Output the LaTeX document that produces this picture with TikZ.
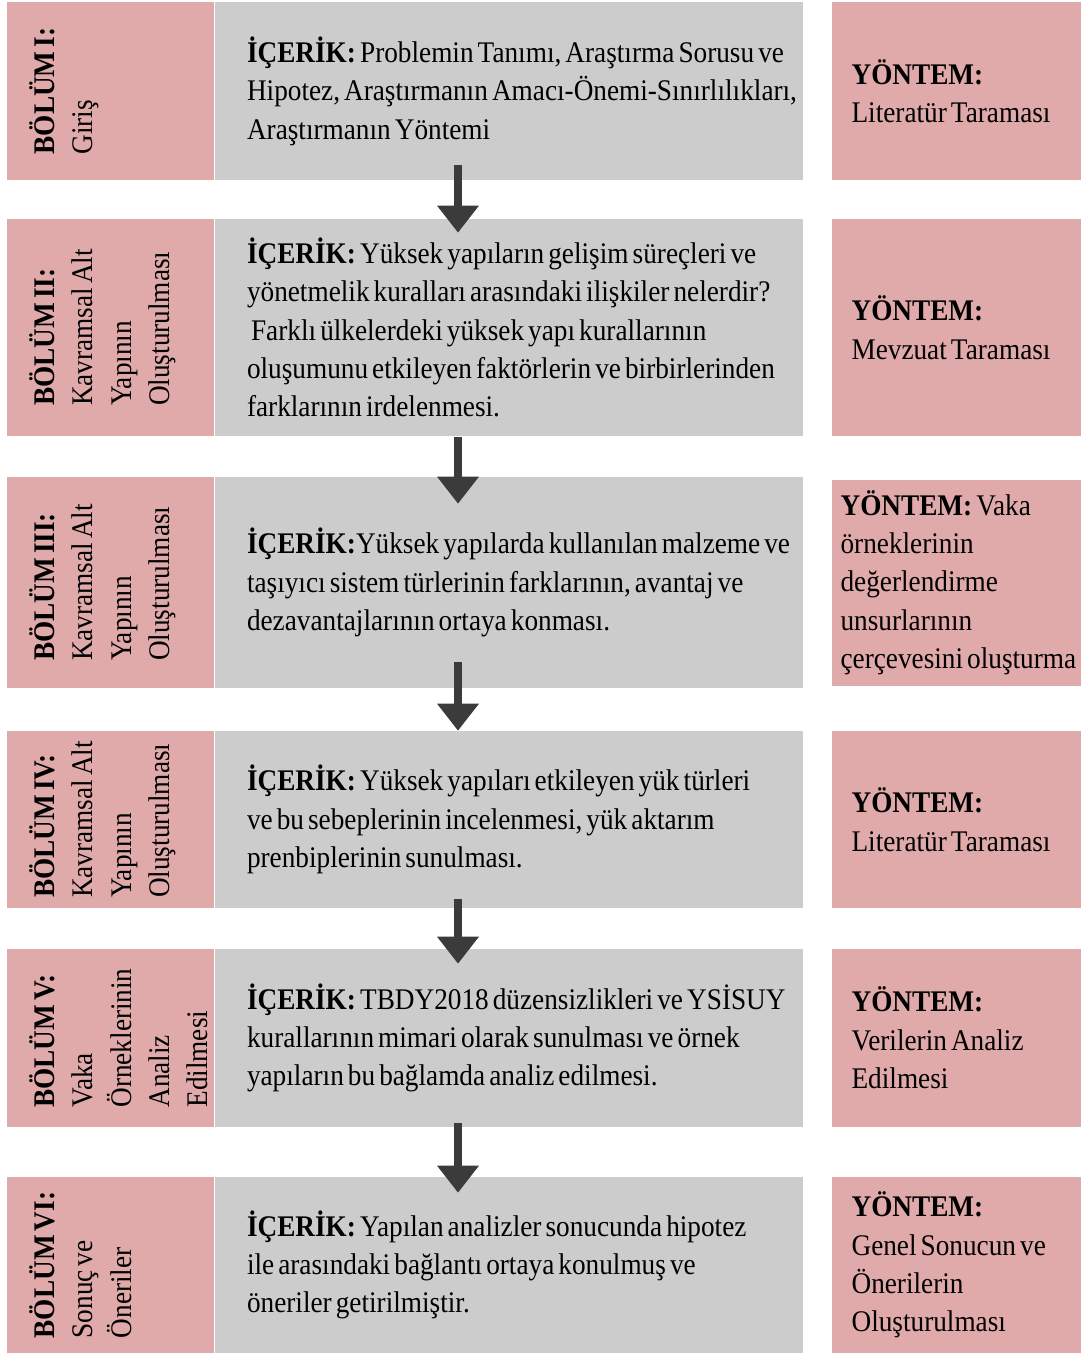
\documentclass[tikz,border=0pt]{standalone}
\usepackage{fontspec}
\setmainfont[FakeStretch=0.91, WordSpace=0.6]{Liberation Serif}
\usepackage{tikz}
\usetikzlibrary{shapes,arrows.meta,positioning}
\definecolor{rosebox}{HTML}{E0AAAB}
\definecolor{greybox}{HTML}{CCCCCC}
\definecolor{arrowgrey}{HTML}{3B3B3B}
\tikzstyle{chapter} = [rectangle, fill=rosebox, minimum width=5.175cm, inner sep=0pt]
\tikzstyle{chaptertext} = [rotate=90, anchor=north, align=left, inner sep=0pt]
\tikzstyle{content} = [rectangle, fill=greybox, text width=14.7cm, inner xsep=0pt,
    align=flush left, execute at begin node={\leftskip=0.8cm}]
\tikzstyle{method} = [rectangle, fill=rosebox, text width=6.225cm, inner xsep=0pt,
    align=flush left, execute at begin node={\leftskip=0.5cm}]
\tikzstyle{line} = [draw=arrowgrey, line width=0.2cm, -{Triangle[width=1cm,length=0.675cm]}]

\begin{document}
\begin{tikzpicture}[font=\fontsize{21.3}{27.3}\selectfont]
  \useasboundingbox (0,0) rectangle (27.275,-33.9);
   % Place nodes
    \node [content, minimum height=4.45cm] (icerik1) at (12.725,-2.275) {\textbf{İÇERİK:} Problemin Tanımı, Araştırma Sorusu ve\\Hipotez, Araştırmanın Amacı-Önemi-Sınırlılıkları,\\Araştırmanın Yöntemi};
    \node [chapter, minimum height=4.45cm, left=0pt of icerik1] (bolum1) {};
    \node [chaptertext] (baslik1) at ([xshift=0.55cm]bolum1.west) {\textbf{BÖLÜM I:}\\Giriş};
    \node [method, minimum height=4.45cm, right=0.7cm of icerik1] (yontem1) {\textbf{YÖNTEM:}\\Literatür Taraması};

    \node [content, minimum height=5.425cm] (icerik2) at (12.725,-8.1875) {\textbf{İÇERİK:} Yüksek yapıların gelişim süreçleri ve\\yönetmelik kuralları arasındaki ilişkiler nelerdir?\\\ Farklı ülkelerdeki yüksek yapı kurallarının\\oluşumunu etkileyen faktörlerin ve birbirlerinden\\farklarının irdelenmesi.};
    \node [chapter, minimum height=5.425cm, left=0pt of icerik2] (bolum2) {};
    \node [chaptertext] (baslik2) at ([xshift=0.55cm]bolum2.west) {\textbf{BÖLÜM II:}\\Kavramsal Alt\\Yapının\\Oluşturulması};
    \node [method, minimum height=5.425cm, right=0.7cm of icerik2] (yontem2) {\textbf{YÖNTEM:}\\Mevzuat Taraması};

    \node [content, minimum height=5.275cm] (icerik3) at (12.725,-14.5625) {\textbf{İÇERİK:}Yüksek yapılarda kullanılan malzeme ve\\taşıyıcı sistem türlerinin farklarının, avantaj ve\\dezavantajlarının ortaya konması.};
    \node [chapter, minimum height=5.275cm, left=0pt of icerik3] (bolum3) {};
    \node [chaptertext] (baslik3) at ([xshift=0.55cm]bolum3.west) {\textbf{BÖLÜM III:}\\Kavramsal Alt\\Yapının\\Oluşturulması};
    \node [method, minimum height=5.15cm, right=0.7cm of icerik3, execute at begin node={\leftskip=0.225cm}] (yontem3) {\textbf{YÖNTEM:} Vaka\\örneklerinin\\değerlendirme\\unsurlarının\\çerçevesini oluşturma};

    \node [content, minimum height=4.425cm] (icerik4) at (12.725,-20.4875) {\textbf{İÇERİK:} Yüksek yapıları etkileyen yük türleri\\ve bu sebeplerinin incelenmesi, yük aktarım\\prenbiplerinin sunulması.};
    \node [chapter, minimum height=4.425cm, left=0pt of icerik4] (bolum4) {};
    \node [chaptertext] (baslik4) at ([xshift=0.55cm]bolum4.west) {\textbf{BÖLÜM IV:}\\Kavramsal Alt\\Yapının\\Oluşturulması};
    \node [method, minimum height=4.425cm, right=0.7cm of icerik4] (yontem4) {\textbf{YÖNTEM:}\\Literatür Taraması};

    \node [content, minimum height=4.45cm] (icerik5) at (12.725,-25.95) {\textbf{İÇERİK:} TBDY2018 düzensizlikleri ve YSİSUY\\kurallarının mimari olarak sunulması ve örnek\\yapıların bu bağlamda analiz edilmesi.};
    \node [chapter, minimum height=4.45cm, left=0pt of icerik5] (bolum5) {};
    \node [chaptertext] (baslik5) at ([xshift=0.55cm]bolum5.west) {\textbf{BÖLÜM V:}\\Vaka\\Örneklerinin\\Analiz\\Edilmesi};
    \node [method, minimum height=4.45cm, right=0.7cm of icerik5] (yontem5) {\textbf{YÖNTEM:}\\Verilerin Analiz\\Edilmesi};

    \node [content, minimum height=4.4cm] (icerik6) at (12.725,-31.625) {\textbf{İÇERİK:} Yapılan analizler sonucunda hipotez\\ile arasındaki bağlantı ortaya konulmuş ve\\öneriler getirilmiştir.};
    \node [chapter, minimum height=4.4cm, left=0pt of icerik6] (bolum6) {};
    \node [chaptertext] (baslik6) at ([xshift=0.55cm]bolum6.west) {\textbf{BÖLÜM VI:}\\Sonuç ve\\Öneriler};
    \node [method, minimum height=4.4cm, right=0.7cm of icerik6] (yontem6) {\textbf{YÖNTEM:}\\Genel Sonucun ve\\Önerilerin\\Oluşturulması};
   % Draw edges
    \path [line] ([xshift=-1.275cm, yshift=0.375cm]icerik1.south) -- ([xshift=-1.275cm, yshift=-0.35cm]icerik2.north);
    \path [line] ([xshift=-1.275cm, yshift=-0.025cm]icerik2.south) -- ([xshift=-1.275cm, yshift=-0.675cm]icerik3.north);
    \path [line] ([xshift=-1.275cm, yshift=0.65cm]icerik3.south) -- ([xshift=-1.275cm]icerik4.north);
    \path [line] ([xshift=-1.275cm, yshift=0.225cm]icerik4.south) -- ([xshift=-1.275cm, yshift=-0.375cm]icerik5.north);
    \path [line] ([xshift=-1.275cm, yshift=0.1cm]icerik5.south) -- ([xshift=-1.275cm, yshift=-0.4cm]icerik6.north);
\end{tikzpicture}
\end{document}
